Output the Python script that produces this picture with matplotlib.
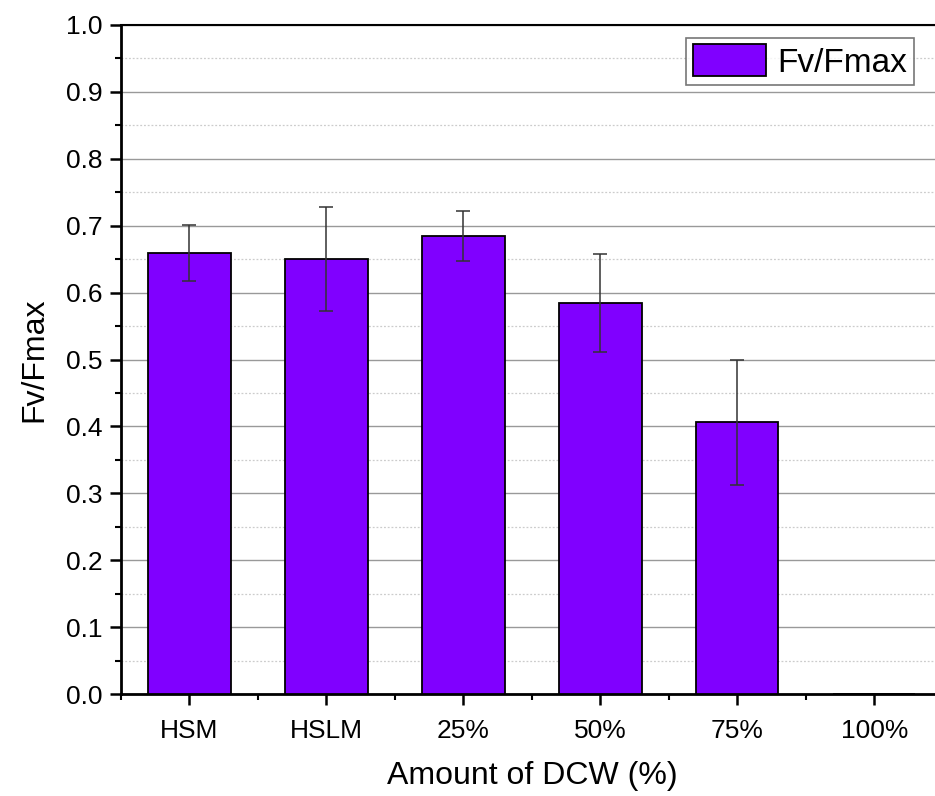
import numpy as np
import matplotlib.pyplot as plt
from matplotlib.ticker import MultipleLocator, AutoMinorLocator

plt.rcParams['font.family'] = ['Liberation Sans', 'DejaVu Sans']

# data
categories = ['HSM', 'HSLM', '25%', '50%', '75%', '100%']
fv_fmax = [0.659, 0.650, 0.685, 0.585, 0.406, 0.0]
fv_err = [0.042, 0.078, 0.037, 0.073, 0.094, 0.0]

fig = plt.figure(figsize=(9.35, 7.96), dpi=100)
ax = fig.add_axes([0.1294, 0.128, 0.879, 0.8406])

x = np.arange(len(categories))
ax.bar(x, fv_fmax, width=0.6, color='#8000ff', edgecolor='black', linewidth=1.3,
       label='Fv/Fmax', zorder=3)
err_x = [i for i, e in zip(x, fv_err) if e > 0]
err_y = [v for v, e in zip(fv_fmax, fv_err) if e > 0]
err_e = [e for e in fv_err if e > 0]
ax.errorbar(err_x, err_y, yerr=err_e, fmt='none', ecolor='#333333',
            elinewidth=1.1, capsize=5, capthick=1.1, zorder=4)

ax.set_xlim(-0.5, 5.5)
ax.set_ylim(0, 1.0)
ax.set_xticks(x)
ax.set_xticklabels(categories)
ax.xaxis.set_minor_locator(plt.FixedLocator(np.arange(-0.5, 6, 1)))
ax.yaxis.set_major_locator(MultipleLocator(0.1))
ax.yaxis.set_minor_locator(AutoMinorLocator(2))
ax.yaxis.set_major_formatter(plt.FormatStrFormatter('%.1f'))

ax.grid(True, which='major', axis='y', color='#999999', linewidth=1.0, zorder=0)
ax.grid(True, which='minor', axis='y', color='#cccccc', linewidth=0.9,
        linestyle=(0, (1.5, 1.5)), zorder=0)
ax.set_axisbelow(True)

ax.tick_params(axis='both', which='major', direction='out', length=8, width=1.8,
               labelsize=19, pad=5)
ax.tick_params(axis='both', which='minor', direction='out', length=4, width=1.5)
ax.tick_params(axis='x', which='major', labelsize=19, pad=10)

for s in ['left', 'bottom']:
    ax.spines[s].set_linewidth(2)
ax.spines['top'].set_linewidth(1.5)
ax.spines['right'].set_visible(False)

ax.set_xlabel('Amount of DCW (%)', fontsize=23, labelpad=13)
ax.set_ylabel('Fv/Fmax', fontsize=23, labelpad=12)

leg = ax.legend(loc='upper right', bbox_to_anchor=(0.965, 0.981), fontsize=24,
                frameon=True, fancybox=False, edgecolor='#555555',
                handlelength=2.2, handleheight=1.1, borderpad=0.2,
                handletextpad=0.35, borderaxespad=0)
leg.get_frame().set_linewidth(1.2)

fig.savefig('out.png', dpi=100)
